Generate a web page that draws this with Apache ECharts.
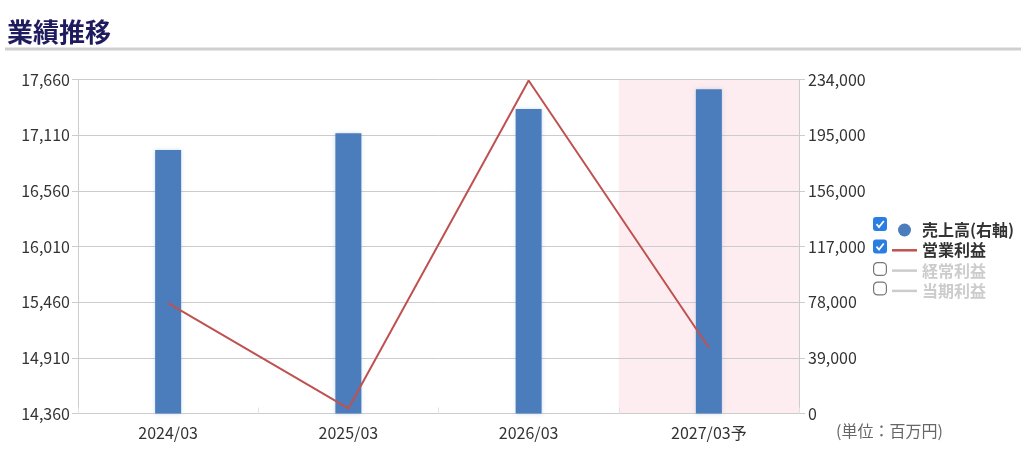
<!DOCTYPE html>
<html>
<head>
<meta charset="utf-8">
<script src="https://cdn.jsdelivr.net/npm/echarts@6/dist/echarts.min.js"></script>
<style>
html,body{margin:0;padding:0;background:#fff;}
#chart{width:1021px;height:455px;}
</style>
</head>
<body>
<div id="chart"></div>
<script>
const categories = ['2024/03', '2025/03', '2026/03', '2027/03予'];
const salesValues = [184600, 196300, 213300, 227100];          // 売上高(右軸)
const operatingProfit = [15450, 14410, 17650, 15010];         // 営業利益
const ordinaryProfit = [];                                    // 経常利益 (hidden)
const netProfit = [];                                         // 当期利益 (hidden)
const leftAxis = { min: 14360, max: 17660, interval: 550 };
const rightAxis = { min: 0, max: 234000, interval: 39000 };
const seriesNames = ['売上高(右軸)', '営業利益', '経常利益', '当期利益'];

const FONT = '"Noto Sans CJK JP", "Noto Sans", sans-serif';
const fmt = v => Number(v).toLocaleString('en-US');
const forecastBand = categories.map(c => c.endsWith('予') ? rightAxis.max : null);
const LINE_ICON = 'path://M0,0H25V2.5H0Z';

const chart = echarts.init(document.getElementById('chart'));

function checkbox(y, checked) {
  if (checked) {
    return {
      type: 'group', left: 873, top: y,
      children: [
        { type: 'rect', shape: { x: 0, y: 0, width: 14, height: 14, r: 3 }, style: { fill: '#2a7de1' } },
        { type: 'polyline', shape: { points: [[3.5, 7.2], [6, 10], [10.8, 4]] }, style: { stroke: '#fff', lineWidth: 1.8, fill: null } }
      ]
    };
  }
  return {
    type: 'group', left: 873, top: y,
    children: [
      { type: 'rect', shape: { x: 0.6, y: 0.6, width: 12.8, height: 12.8, r: 4 }, style: { fill: '#fff', stroke: '#777', lineWidth: 1.2 } }
    ]
  };
}

const option = {
  textStyle: { fontFamily: FONT },
  animation: false,
  title: {
    text: '業績推移', left: 2, top: 14,
    textStyle: { fontSize: 26, fontWeight: 'bold', color: '#1f1b5f', fontFamily: FONT }
  },
  graphic: [
    { type: 'line', shape: { x1: 5, y1: 49, x2: 1021, y2: 49 }, style: { stroke: '#cfcfcf', lineWidth: 3 } },
    { type: 'text', left: 836, top: 423, style: { text: '(単位：百万円)', fill: '#666', fontSize: 16, fontFamily: FONT } },
    checkbox(217, true),
    checkbox(239.5, true),
    checkbox(262, false),
    checkbox(281.5, false)
  ],
  legend: {
    orient: 'vertical', left: 887, top: 217,
    itemWidth: 25, itemHeight: 13, itemGap: 4.3,
    inactiveColor: '#ccc',
    textStyle: { fontSize: 16, fontWeight: 'bold', color: '#333', fontFamily: FONT },
    selectedMode: true,
    data: [
      { name: seriesNames[0], icon: 'circle' },
      { name: seriesNames[1], icon: LINE_ICON },
      { name: seriesNames[2], icon: LINE_ICON },
      { name: seriesNames[3], icon: LINE_ICON }
    ],
    selected: { [seriesNames[2]]: false, [seriesNames[3]]: false }
  },
  grid: { left: 78, right: 222, top: 79.5, bottom: 41.5, containLabel: false },
  xAxis: [
    {
      type: 'category', data: categories, boundaryGap: true, z: 1,
      axisLine: { lineStyle: { color: '#ccc' } },
      axisTick: { show: true, inside: true, length: 6, lineStyle: { color: '#e2e2e2' } },
      axisLabel: { color: '#333', fontSize: 16, margin: 11, fontFamily: FONT }
    },
    { type: 'category', data: categories, show: false }
  ],
  yAxis: [
    {
      type: 'value', position: 'left', min: leftAxis.min, max: leftAxis.max, interval: leftAxis.interval, z: 1,
      axisLine: { show: true, lineStyle: { color: '#ccc' } },
      axisTick: { show: true, length: 6, lineStyle: { color: '#ccc' } },
      axisLabel: { color: '#333', fontSize: 16, margin: 8, formatter: fmt, fontFamily: FONT },
      splitLine: { show: true, lineStyle: { color: '#ccc' } }
    },
    {
      type: 'value', position: 'right', min: rightAxis.min, max: rightAxis.max, interval: rightAxis.interval, z: 1,
      axisLine: { show: true, lineStyle: { color: '#ccc' } },
      axisTick: { show: true, length: 6, lineStyle: { color: '#ccc' } },
      axisLabel: { color: '#333', fontSize: 16, margin: 9, formatter: fmt, fontFamily: FONT },
      splitLine: { show: false }
    }
  ],
  series: [
    {
      name: 'forecast', type: 'bar', xAxisIndex: 1, yAxisIndex: 1, data: forecastBand,
      barWidth: '100%', silent: true, z: 0, legendHoverLink: false,
      itemStyle: { color: '#fdedf0' }
    },
    {
      name: seriesNames[0], type: 'bar', yAxisIndex: 1, data: salesValues, barWidth: 26, z: 2,
      itemStyle: { color: '#4b7dbd', shadowColor: 'rgba(120,160,215,0.35)', shadowBlur: 4 }
    },
    {
      name: seriesNames[1], type: 'line', yAxisIndex: 0, data: operatingProfit, z: 3,
      symbol: 'none', lineStyle: { color: '#bf5250', width: 2 }, itemStyle: { color: '#bf5250' }
    },
    {
      name: seriesNames[2], type: 'line', yAxisIndex: 0, data: ordinaryProfit,
      symbol: 'none', lineStyle: { color: '#8aa84b', width: 2 }, itemStyle: { color: '#8aa84b' }
    },
    {
      name: seriesNames[3], type: 'line', yAxisIndex: 0, data: netProfit,
      symbol: 'none', lineStyle: { color: '#7e62a1', width: 2 }, itemStyle: { color: '#7e62a1' }
    }
  ]
};
chart.setOption(option);
</script>
</body>
</html>
